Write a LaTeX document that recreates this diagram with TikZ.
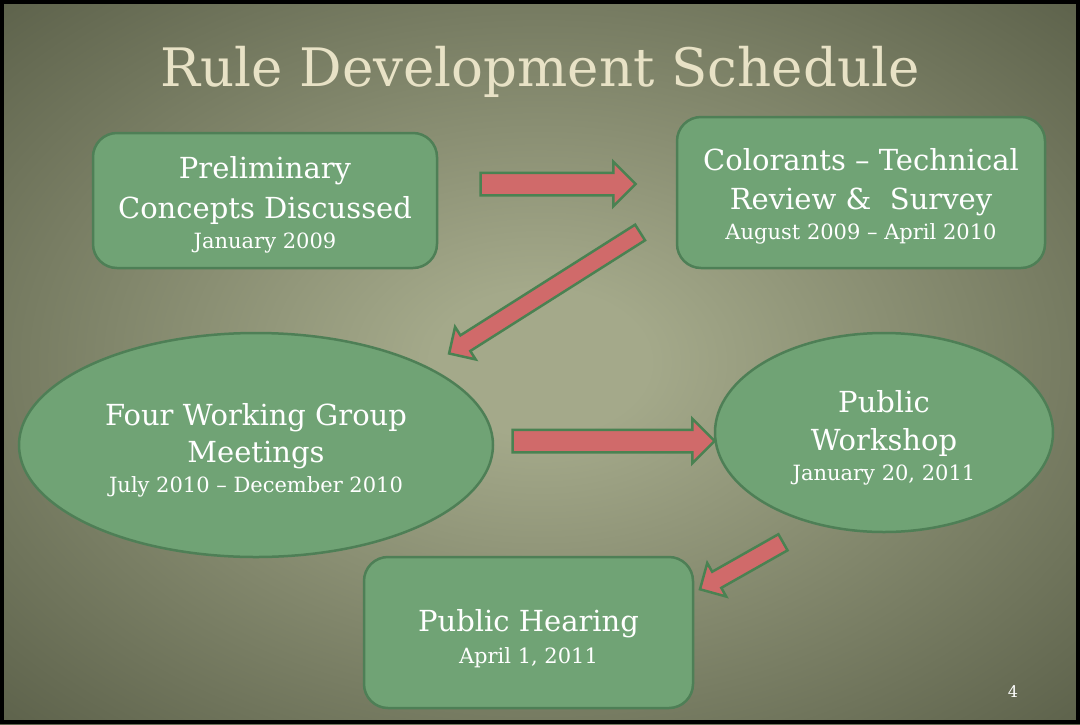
\documentclass[tikz,border=0pt]{standalone}
\usepackage{fontspec}
\setmainfont{DejaVu Serif}
\usetikzlibrary{calc}
\usetikzlibrary{shapes.geometric, shapes.arrows}

\definecolor{bgin}{HTML}{A4A98A}
\definecolor{bgout}{HTML}{3B402D}
\definecolor{boxfill}{HTML}{70A375}
\definecolor{boxline}{HTML}{4E7F56}
\definecolor{arrowfill}{HTML}{D06A6A}
\definecolor{arrowline}{HTML}{4A8252}
\definecolor{titlecol}{HTML}{E8E2C6}

\pgfdeclareradialshading{slidebg}{\pgfpoint{0bp}{0bp}}{color(0bp)=(bgin); color(5bp)=(bgin); color(50bp)=(bgout); color(75bp)=(bgout)}

\newcommand\headfont{\fontsize{29}{30}\selectfont}
\newcommand\datefont{\fontsize{21}{31}\selectfont}

\tikzset{
  greenbox/.style={rectangle, rounded corners=24pt, draw=boxline, fill=boxfill,
    line width=2.5pt, inner sep=0pt},
  greenoval/.style={ellipse, draw=boxline, fill=boxfill, line width=2.5pt,
    inner sep=0pt},
  boxtext/.style={text=white, align=center, font=\headfont, inner sep=0pt},
  fatarrow/.style={single arrow, draw=arrowline, fill=arrowfill, line width=2.5pt,
    inner xsep=0pt, single arrow head indent=0pt, minimum width=0pt},
}

% block arrow as a node stretched between two named points
\newcommand\blockarrow[5]{% name, from, to, half shaft, head extend
  \path let \p1=(#2), \p2=(#3), \n1={atan2(\y2-\y1,\x2-\x1)},
    \n2={veclen(\x2-\x1,\y2-\y1)} in
    node[fatarrow, inner ysep=#4, single arrow head extend=#5,
      minimum height=\n2, rotate=\n1] (#1) at ($(#2)!.5!(#3)$) {};}

\begin{document}
\begin{tikzpicture}[x=1pt, y=-1pt]
  \useasboundingbox (0,0) rectangle (1080,724);
  \shade[shading=slidebg] (0,0) rectangle (1080,724);
  \draw[black, line width=4pt] (2,2) rectangle (1078,722);

  \node[text=titlecol, font=\fontsize{53}{60}\selectfont] (title) at (540,72) {Rule Development Schedule};

  \node[greenbox, minimum width=344pt, minimum height=135pt] (prelim) at (265,200.5) {};
  \node[greenbox, minimum width=368pt, minimum height=151pt] (color) at (861,192.5) {};
  \node[greenoval, minimum width=474pt, minimum height=224pt] (groups) at (256,445) {};
  \node[greenoval, minimum width=338pt, minimum height=199pt] (workshop) at (884,432.5) {};
  \node[greenbox, minimum width=329pt, minimum height=151pt] (hearing) at (528.5,632.5) {};

  \node[boxtext] (prelimtxt) at ($(prelim.center)+(0,4)$)
    {Preliminary\\[10pt]Concepts Discussed\\{\datefont January 2009}};
  \node[boxtext] (colortxt) at ($(color.center)+(0,4)$)
    {Colorants -- Technical\\[9pt]Review \&\ \ Survey\\{\datefont August 2009 -- April 2010}};
  \node[boxtext] (groupstxt) at ($(groups.center)+(0,5)$)
    {Four Working Group\\[7pt]Meetings\\{\datefont July 2010 -- December 2010}};
  \node[boxtext] (workshoptxt) at ($(workshop.center)+(0,5)$)
    {Public\\[8pt]Workshop\\{\datefont January 20, 2011}};
  \node[boxtext] (hearingtxt) at ($(hearing.center)+(0,6)$)
    {Public Hearing\\[2pt]{\datefont April 1, 2011}};

  \node[text=white, font=\fontsize{16}{18}\selectfont] (pageno) at (1013,692) {4};

  % arrow ends
  \coordinate (a1s) at (475,184);   \coordinate (a1e) at (630,184);
  \coordinate (a2s) at (644,230);   \coordinate (a2e) at (453,351);
  \coordinate (a3s) at (787,540);   \coordinate (a3e) at (704,587);
  \coordinate (a4s) at (507,441);   \coordinate (a4e) at (709,441);

  \blockarrow{arr1}{a1s}{a1e}{10pt}{11pt}
  \blockarrow{arr2}{a2s}{a2e}{8pt}{10pt}
  \blockarrow{arr3}{a3s}{a3e}{8pt}{10pt}
  \blockarrow{arr4}{a4s}{a4e}{10pt}{11pt}
\end{tikzpicture}
\end{document}
